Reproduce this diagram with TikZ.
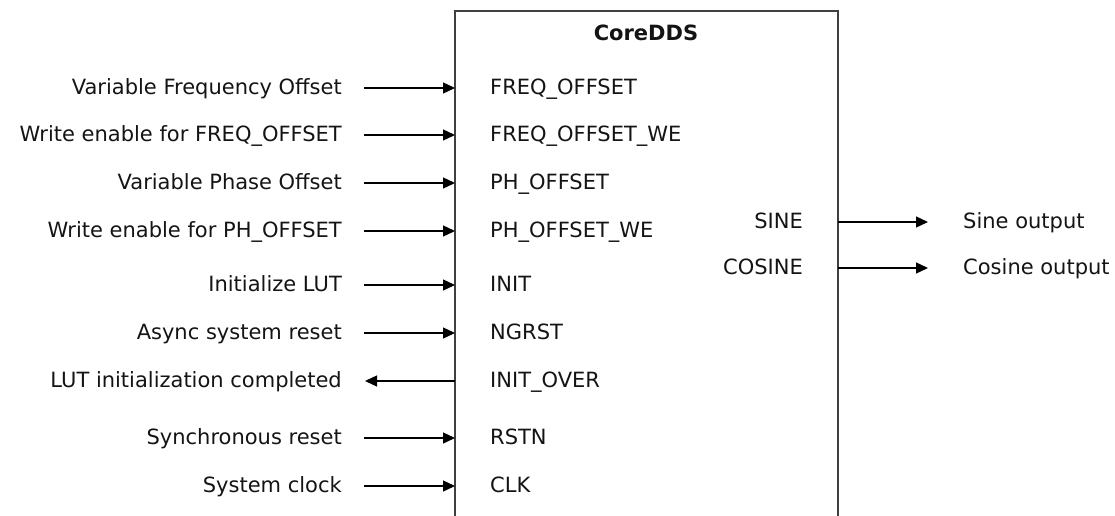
\documentclass[tikz,border=0pt]{standalone}
\usepackage{fontspec}
\setmainfont{DejaVu Sans}
\usetikzlibrary{arrows.meta}
\begin{document}
\begin{tikzpicture}[x=1pt,y=-1pt,
  txt/.style={inner sep=0pt,font=\fontsize{21}{25}\selectfont,text=black!92},
  lab/.style={txt,anchor=base east},
  pin/.style={txt,anchor=base west},
  outl/.style={txt,anchor=base west},
  sig/.style={line width=1.3pt,-{Triangle[length=12pt,width=11pt]}},
  boxline/.style={line width=1.5pt,draw=black!75}]
\useasboundingbox (0,0) rectangle (1115,516);
% block
\coordinate (bl) at (455,520);
\coordinate (tl) at (455,11);
\coordinate (tr) at (838,11);
\coordinate (br) at (838,520);
\draw[boxline] (bl) -- (tl) -- (tr) -- (br);
\node[txt,font=\fontsize{21}{25}\selectfont\bfseries] (title) at (646,33) {CoreDDS};
% inputs
\foreach \n/\y/\l/\p in {
  a/88/{Variable Frequency Offset}/{FREQ\_OFFSET},
  b/135/{Write enable for FREQ\_OFFSET}/{FREQ\_OFFSET\_WE},
  c/183/{Variable Phase Offset}/{PH\_OFFSET},
  d/231/{Write enable for PH\_OFFSET}/{PH\_OFFSET\_WE},
  e/285/{Initialize LUT}/{INIT},
  f/333/{Async system reset}/{NGRST},
  h/438/{Synchronous reset}/{RSTN},
  i/486/{System clock}/{CLK}}{
  \node[lab] (L\n) at (342,\y+6.5) {\l};
  \node[pin] (P\n) at (490,\y+6.5) {\p};
  \coordinate (S\n) at (364,\y);
  \coordinate (E\n) at (455,\y);
  \draw[sig] (S\n) -- (E\n);
}
% output INIT_OVER
\node[lab] (Lg) at (342,381+6.5) {LUT initialization completed};
\node[pin] (Pg) at (490,381+6.5) {INIT\_OVER};
\coordinate (Sg) at (455,381);
\coordinate (Eg) at (365,381);
\draw[sig] (Sg) -- (Eg);
% right outputs
\node[lab] (Psin) at (803,222+6.5) {SINE};
\node[lab] (Pcos) at (803,268+6.5) {COSINE};
\coordinate (Ssin) at (838,222);
\coordinate (Esin) at (928,222);
\coordinate (Scos) at (838,268);
\coordinate (Ecos) at (928,268);
\draw[sig] (Ssin) -- (Esin);
\draw[sig] (Scos) -- (Ecos);
\node[outl] (Osin) at (963,222+6.5) {Sine output};
\node[outl] (Ocos) at (963,268+6.5) {Cosine output};
\end{tikzpicture}
\end{document}
